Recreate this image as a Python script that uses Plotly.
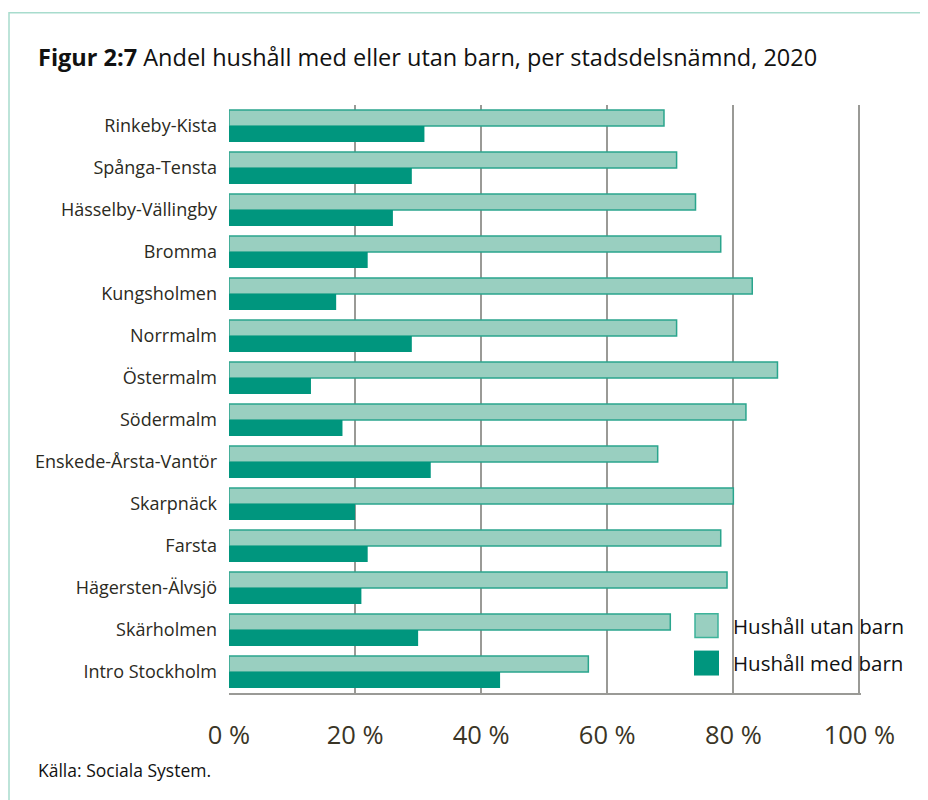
import plotly.graph_objects as go

categories = ["Rinkeby-Kista", "Spånga-Tensta", "Hässelby-Vällingby", "Bromma",
              "Kungsholmen", "Norrmalm", "Östermalm", "Södermalm",
              "Enskede-Årsta-Vantör", "Skarpnäck", "Farsta", "Hägersten-Älvsjö",
              "Skärholmen", "Intro Stockholm"]
utan_barn = [69, 71, 74, 78, 83, 71, 87, 82, 68, 80, 78, 79, 70, 57]
med_barn = [31, 29, 26, 22, 17, 29, 13, 18, 32, 20, 22, 21, 30, 43]
tick_vals = [0, 20, 40, 60, 80, 100]
tick_text = ["0 %", "20 %", "40 %", "60 %", "80 %", "100 %"]

OFF = 8  # page body margin
W, H = 928 - OFF, 800 - OFF
L, R, T, B = 229 - OFF, 861 - OFF, 104.5 - OFF, 693.5 - OFF

def px(x):
    return (x - OFF - L) / (R - L)

def py(y):
    return (B - (y - OFF)) / (B - T)

FONT = "Open Sans"
C_LIGHT = "#99cfc0"
C_LIGHT_EDGE = "#2aa58d"
C_DARK = "#00967e"

fig = go.Figure()
fig.add_trace(go.Bar(y=categories, x=utan_barn, orientation="h", name="Hushåll utan barn",
                     marker=dict(color=C_LIGHT, line=dict(color=C_LIGHT_EDGE, width=1.5))))
fig.add_trace(go.Bar(y=categories, x=med_barn, orientation="h", name="Hushåll med barn",
                     marker=dict(color=C_DARK, line=dict(width=0))))

shapes = [
    dict(type="rect", xref="paper", yref="paper", x0=px(9), x1=px(950), y0=py(820), y1=py(12),
         line=dict(color="#a8dccd", width=1.5), fillcolor="rgba(0,0,0,0)", layer="below"),
    dict(type="rect", xref="paper", yref="paper", x0=px(695), x1=px(718), y0=py(638), y1=py(614),
         line=dict(color="#3db39a", width=1.5), fillcolor=C_LIGHT),
    dict(type="rect", xref="paper", yref="paper", x0=px(694), x1=px(719), y0=py(676), y1=py(651),
         line=dict(width=0), fillcolor=C_DARK),
]

annotations = [
    dict(text="<b>Figur 2:7</b> Andel hushåll med eller utan barn, per stadsdelsnämnd, 2020",
         xref="paper", yref="paper", x=px(36), y=py(56), xanchor="left", yanchor="middle",
         showarrow=False, font=dict(family=FONT, size=23.5, color="#111111")),
    dict(text="Källa: Sociala System.", xref="paper", yref="paper", x=px(36), y=py(771),
         xanchor="left", yanchor="middle", showarrow=False,
         font=dict(family=FONT, size=17.5, color="#111111")),
    dict(text="Hushåll utan barn", xref="paper", yref="paper", x=px(731), y=py(626),
         xanchor="left", yanchor="middle", showarrow=False,
         font=dict(family=FONT, size=20.5, color="#111111")),
    dict(text="Hushåll med barn", xref="paper", yref="paper", x=px(731), y=py(663),
         xanchor="left", yanchor="middle", showarrow=False,
         font=dict(family=FONT, size=20.5, color="#111111")),
]

fig.update_layout(
    width=W, height=H,
    margin=dict(l=L, r=W - R, t=T, b=H - B, pad=0),
    paper_bgcolor="white", plot_bgcolor="white",
    barmode="group", bargap=0.24, bargroupgap=0.0,
    showlegend=False,
    shapes=shapes, annotations=annotations,
    xaxis=dict(range=[0, 100.25], tickvals=tick_vals, ticktext=tick_text,
               showgrid=True, gridcolor="#9a9a96", gridwidth=2,
               showline=True, linecolor="#9a9a96", linewidth=2,
               zeroline=False, ticks="", ticklabelstandoff=18,
               tickfont=dict(family=FONT, size=25.5, color="#3a3526")),
    yaxis=dict(autorange="reversed", showgrid=False, zeroline=False, showline=False,
               ticks="", ticklabelstandoff=11,
               tickfont=dict(family=FONT, size=18, color="#2b2a22")),
)

fig.write_html("out.html")
